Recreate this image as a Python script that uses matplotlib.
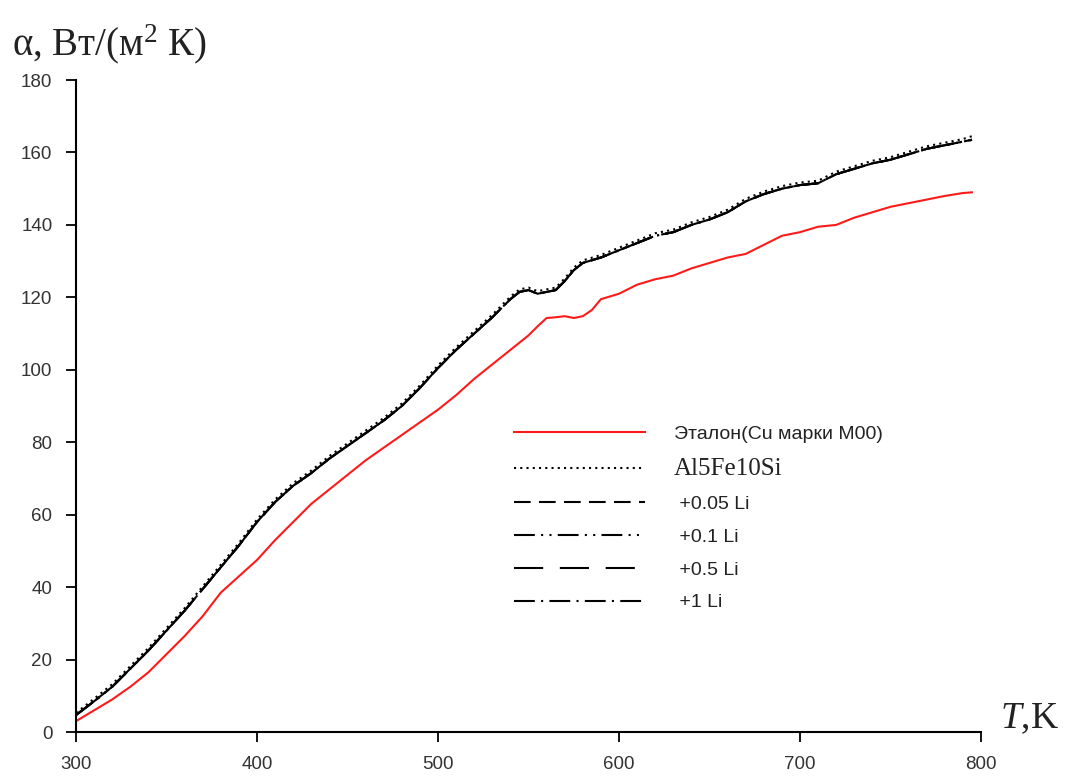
import matplotlib.pyplot as plt

plt.rcParams['mathtext.fontset'] = 'custom'
plt.rcParams['mathtext.rm'] = 'Liberation Serif'
plt.rcParams['mathtext.it'] = 'Liberation Serif:italic'

# температура для эталона, K
T_ref = [300, 310, 320, 330, 340, 350, 360, 370, 380, 390,
         400, 410, 420, 430, 440, 450, 460, 470, 480, 490,
         500, 510, 520, 530, 540, 550, 555, 560, 565, 570,
         575, 580, 585, 590, 600, 610, 620, 630, 640, 650,
         660, 670, 680, 690, 700, 710, 720, 730, 740, 750,
         760, 770, 780, 790, 795]

# эталон (Cu М00)
etalon = [3.0, 6.0, 9.0, 12.5, 16.5, 21.5, 26.5, 32.0, 38.5, 43.0,
          47.5, 53.0, 58.0, 63.0, 67.0, 71.0, 75.0, 78.5, 82.0, 85.5,
          89.0, 93.0, 97.5, 101.5, 105.5, 109.5, 112.0, 114.3, 114.5, 114.8,
          114.3, 114.8, 116.5, 119.5, 121.0, 123.5, 125.0, 126.0, 128.0, 129.5,
          131.0, 132.0, 134.5, 137.0, 138.0, 139.5, 140.0, 142.0, 143.5, 145.0,
          146.0, 147.0, 148.0, 148.8, 149.0]

# температура для сплавов, K
T_al = [300, 310, 320, 330, 340, 350, 360, 370, 380, 390,
        400, 410, 420, 430, 440, 450, 460, 470, 480, 490,
        500, 510, 520, 530, 540, 545, 550, 555, 560, 565,
        570, 575, 580, 590, 600, 610, 620, 630, 640, 650,
        660, 670, 680, 690, 700, 710, 720, 730, 740, 750,
        760, 770, 780, 790, 795]

# Al5Fe10Si (точки чуть выше)
al5 = [5.3, 9.2, 13.2, 18.2, 23.2, 28.7, 34.2, 40.2, 46.2, 52.2,
       58.7, 64.2, 68.7, 72.2, 76.2, 79.7, 83.2, 86.7, 90.7, 95.7,
       101.2, 106.2, 110.7, 115.2, 120.2, 122.2, 122.7, 121.7, 122.2, 122.7,
       125.2, 128.2, 130.2, 131.7, 133.7, 135.7, 137.7, 138.7, 140.7, 142.2,
       144.2, 147.2, 149.2, 150.7, 151.7, 152.2, 154.7, 156.2, 157.7, 158.7,
       160.2, 161.7, 162.7, 163.7, 164.5]

# сплавы с Li (на графике практически совпадают)
li005 = [4.7, 8.5, 12.5, 17.5, 22.5, 28.0, 33.5, 39.5, 45.5, 51.5,
         58.0, 63.5, 68.0, 71.5, 75.5, 79.0, 82.5, 86.0, 90.0, 95.0,
         100.5, 105.5, 110.0, 114.5, 119.5, 121.5, 122.0, 121.0, 121.5, 122.0,
         124.5, 127.5, 129.5, 131.0, 133.0, 135.0, 137.0, 138.0, 140.0, 141.5,
         143.5, 146.5, 148.5, 150.0, 151.0, 151.5, 154.0, 155.5, 157.0, 158.0,
         159.5, 161.0, 162.0, 163.0, 163.5]
li01 = li005
li05 = li005
li1 = li005

fig = plt.figure(figsize=(10.74, 7.8), dpi=100)
ax = fig.add_axes([0.0708, 0.0615, 0.8426, 0.8359])

ax.plot(T_ref, etalon, color='#ff1a1a', lw=1.5, label='Эталон(Cu марки М00)')
ax.plot(T_al, al5, color='black', lw=1.5, ls=(0, (1, 2)), label='Al5Fe10Si')
ax.plot(T_al, li005, color='black', lw=1.5, ls=(0, (8, 4)), label=' +0.05 Li')
ax.plot(T_al, li01, color='black', lw=1.5, ls=(0, (10, 3, 1, 3, 1, 3)), label=' +0.1 Li')
ax.plot(T_al, li05, color='black', lw=1.5, ls=(0, (14, 8)), label=' +0.5 Li')
ax.plot(T_al, li1, color='black', lw=1.5, ls=(0, (10, 3, 1, 3)), label=' +1 Li')

ax.set_xlim(300, 800)
ax.set_ylim(0, 180)
ax.set_xticks(range(300, 801, 100))
ax.set_yticks(range(0, 181, 20))
for s in ['top', 'right']:
    ax.spines[s].set_visible(False)
for s in ['left', 'bottom']:
    ax.spines[s].set_linewidth(1.5)
ax.tick_params(axis='both', direction='out', length=7, width=1.3,
               labelsize=13.5, labelcolor='#333333')
ax.tick_params(axis='x', pad=10)
ax.tick_params(axis='y', pad=10)
for lab in ax.get_xticklabels() + ax.get_yticklabels():
    lab.set_fontfamily('Liberation Sans')

leg = ax.legend(loc='upper left', bbox_to_anchor=(0.465, 0.497), frameon=False,
                handlelength=6.7, handletextpad=1.5, labelspacing=0.78,
                prop={'family': 'Liberation Sans', 'size': 14})
texts = leg.get_texts()
texts[1].set_fontfamily('Liberation Serif')
texts[1].set_fontsize(18)
for t in texts:
    t.set_color('#222222')

fig.text(0.011, 0.944, r'α, Вт/(м$^{2}$ К)', fontsize=28,
         family='Liberation Serif', color='#222222', va='center')
fig.text(0.931, 0.078, r'$\mathit{T}$,K', fontsize=27,
         family='Liberation Serif', color='#222222', va='center')

fig.savefig('out.png', dpi=100)
